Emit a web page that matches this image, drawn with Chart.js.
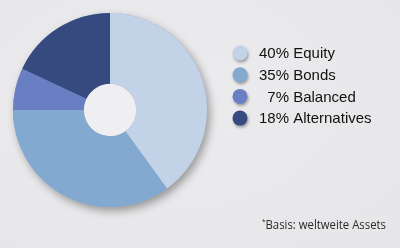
<!DOCTYPE html>
<html>
<head>
<meta charset="utf-8">
<script src="https://cdn.jsdelivr.net/npm/chart.js@4"></script>
<style>
  html, body { margin: 0; padding: 0; background: #e9e9eb; }
  #wrap { position: relative; width: 400px; height: 248px; overflow: hidden;
          background: radial-gradient(ellipse at 40% 40%, #ececee 0%, #e6e6e8 100%); }
  canvas { position: absolute; left: 0; top: 0; }
  #note { position: absolute; left: 262px; top: 215px; font-family: "Open Sans", "Liberation Sans", sans-serif;
          font-size: 12.5px; color: #2a2a2a; white-space: nowrap; transform-origin: 0 0; line-height: 14px; }
  #note sup { font-size: 7px; vertical-align: 5px; }
</style>
</head>
<body>
<div id="wrap">
  <canvas id="c" width="400" height="248"></canvas>
  <div id="note"><sup>*</sup>Basis: weltweite Assets</div>
</div>
<script>
const categories = ["Equity", "Bonds", "Balanced", "Alternatives"];
const shares = [40, 35, 7, 18];
const colors = ["#c3d3e7", "#84a9d1", "#6a7fc3", "#374a80"];

const ringShadow = {
  id: "ringShadow",
  beforeDatasetsDraw(chart) {
    const meta = chart.getDatasetMeta(0);
    const arc = meta.data[0];
    if (!arc) return;
    const { x, y, outerRadius, innerRadius } = arc.getProps(["x", "y", "outerRadius", "innerRadius"], true);
    const ctx = chart.ctx;
    ctx.save();
    ctx.shadowColor = "rgba(0,0,0,0.35)";
    ctx.shadowBlur = 9;
    ctx.shadowOffsetX = 3;
    ctx.shadowOffsetY = 4;
    ctx.beginPath();
    ctx.arc(x, y, outerRadius, 0, Math.PI * 2);
    ctx.arc(x, y, innerRadius, 0, Math.PI * 2, true);
    ctx.fillStyle = "#8fa5c8";
    ctx.fill("evenodd");
    ctx.restore();
    ctx.save();
    ctx.beginPath();
    ctx.arc(x, y, innerRadius, 0, Math.PI * 2);
    ctx.fillStyle = "#efeff1";
    ctx.fill();
    ctx.restore();
  }
};

const sideLegend = {
  id: "sideLegend",
  afterDraw(chart) {
    const ctx = chart.ctx;
    const labels = chart.data.labels;
    const vals = chart.data.datasets[0].data;
    const cols = chart.data.datasets[0].backgroundColor;
    const dotX = 240, textX = 259, y0 = 53, step = 21.7;
    ctx.save();
    ctx.font = "15px 'Liberation Sans', Arial, sans-serif";
    ctx.textBaseline = "middle";
    const numW = ctx.measureText("40%").width;
    labels.forEach((lab, i) => {
      const y = y0 + i * step;
      ctx.save();
      ctx.shadowColor = "rgba(0,0,0,0.35)";
      ctx.shadowBlur = 3;
      ctx.shadowOffsetX = 1;
      ctx.shadowOffsetY = 2;
      ctx.beginPath();
      ctx.arc(dotX, y, 7.5, 0, Math.PI * 2);
      ctx.fillStyle = cols[i];
      ctx.fill();
      ctx.restore();
      ctx.fillStyle = "#111";
      ctx.textAlign = "right";
      ctx.fillText(vals[i] + "%", textX + numW, y + 1);
      ctx.textAlign = "left";
      ctx.fillText(" " + lab, textX + numW, y + 1);
    });
    ctx.restore();
  }
};

new Chart(document.getElementById("c"), {
  type: "doughnut",
  data: {
    labels: categories,
    datasets: [{ data: shares, backgroundColor: colors, borderWidth: 0, hoverOffset: 0 }]
  },
  options: {
    responsive: false,
    animation: false,
    cutout: "27%",
    layout: { padding: { left: 13, top: 13, right: 193, bottom: 41 } },
    plugins: { legend: { display: false }, tooltip: { enabled: false } },
    events: []
  },
  plugins: [ringShadow, sideLegend]
});

const note = document.getElementById("note");
const w = note.getBoundingClientRect().width;
note.style.transform = "scaleX(" + (124 / w) + ")";
</script>
</body>
</html>
